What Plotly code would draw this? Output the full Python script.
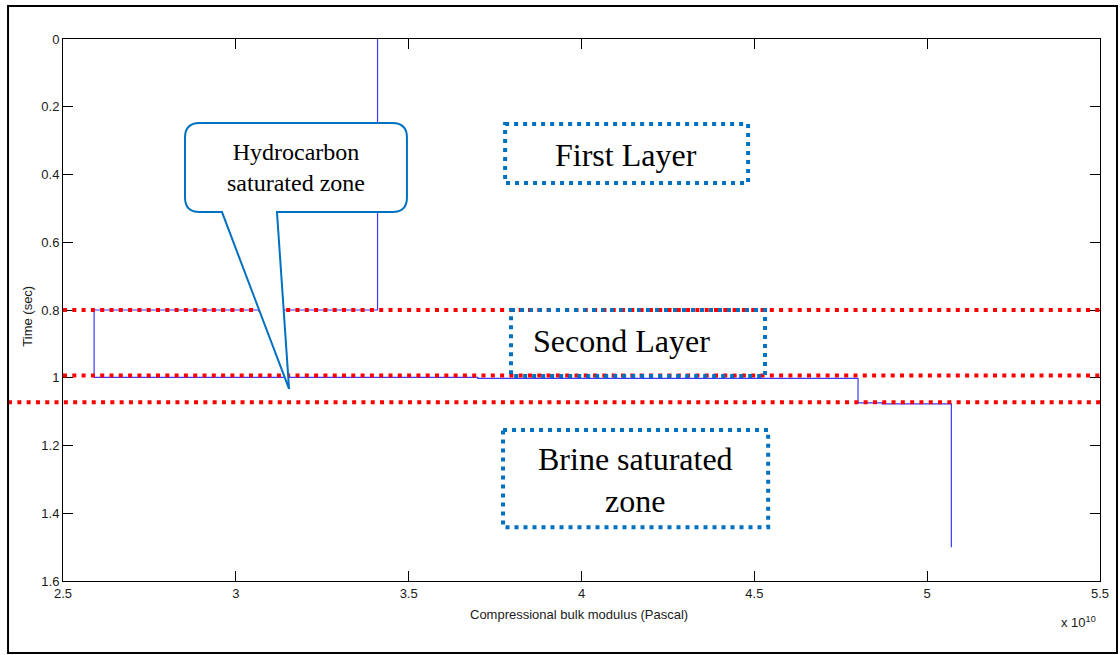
import plotly.graph_objects as go

# ---- data (x in units of 1e10 Pa, y in seconds) ----
modulus = [3.41, 3.41, 2.59, 2.59, 3.70, 3.70, 4.80, 4.80, 4.87, 4.87, 5.07, 5.07]
time_s = [0.0, 0.80, 0.80, 0.999, 0.999, 1.002, 1.002, 1.074, 1.074, 1.077, 1.077, 1.50]

boundaries = [0.80, 0.993, 1.072]          # red dotted layer boundaries
x_ticks = [2.5, 3, 3.5, 4, 4.5, 5, 5.5]
x_ticklabels = ["2.5", "3", "3.5", "4", "4.5", "5", "5.5"]
y_ticks = [0, 0.2, 0.4, 0.6, 0.8, 1.0, 1.2, 1.4, 1.6]
y_ticklabels = ["0", "0.2", "0.4", "0.6", "0.8", "1", "1.2", "1.4", "1.6"]

label_boxes = {  # text: (x0, x1, y0, y1, xc, yc)
    "First Layer": (3.779, 4.482, 0.251, 0.425, 4.129, 0.342),
    "Second Layer": (3.796, 4.531, 0.800, 0.995, 4.117, 0.891),
    "Brine saturated<br>zone": (3.773, 4.540, 1.154, 1.441, 4.155, 1.302),
}

SANS = "Liberation Sans Narrow, Arial Narrow, Liberation Sans, Arial"
SERIF = "Liberation Serif, Times New Roman, serif"
BOXBLUE = "#0070C0"

fig = go.Figure()
fig.add_trace(go.Scatter(x=modulus, y=time_s, mode="lines",
                         line=dict(color="#3a3aff", width=1.2), hoverinfo="skip",
                         showlegend=False))

shapes = []
# red dotted boundaries
for i, b in enumerate(boundaries):
    if i < 2:
        shapes.append(dict(type="line", xref="x", yref="y", x0=2.5, x1=5.5, y0=b, y1=b,
                           line=dict(color="#ff0000", width=4, dash="4px,5.3px")))
    else:
        shapes.append(dict(type="line", xref="paper", yref="y", x0=-0.053, x1=1.0, y0=b, y1=b,
                           line=dict(color="#ff0000", width=4, dash="4px,5.3px")))

annotations = []
for text, (x0, x1, y0, y1, xc, yc) in label_boxes.items():
    shapes.append(dict(type="rect", xref="x", yref="y", x0=x0, x1=x1, y0=y0, y1=y1,
                       line=dict(color=BOXBLUE, width=4, dash="4px,5px"),
                       fillcolor="rgba(0,0,0,0)"))
    annotations.append(dict(x=xc, y=yc, xref="x", yref="y", text=text, showarrow=False,
                            xanchor="center", yanchor="middle",
                            font=dict(family=SERIF, size=32, color="#000000"),
                            align="center"))

# callout (hydrocarbon)
cx0, cx1, cy0, cy1 = 2.853, 3.495, 0.248, 0.511
rx, ry = 0.042, 0.043
t1, tip_x, tip_y, t2 = 3.119, 3.154, 1.033, 2.960
path = (f"M {cx0+rx},{cy0} L {cx1-rx},{cy0} Q {cx1},{cy0} {cx1},{cy0+ry} "
        f"L {cx1},{cy1-ry} Q {cx1},{cy1} {cx1-rx},{cy1} "
        f"L {t1},{cy1} L {tip_x},{tip_y} L {t2},{cy1} "
        f"L {cx0+rx},{cy1} Q {cx0},{cy1} {cx0},{cy1-ry} "
        f"L {cx0},{cy0+ry} Q {cx0},{cy0} {cx0+rx},{cy0} Z")
shapes.append(dict(type="path", xref="x", yref="y", path=path,
                   fillcolor="#ffffff", line=dict(color=BOXBLUE, width=2)))
annotations.append(dict(x=3.174, y=0.378, xref="x", yref="y",
                        text="Hydrocarbon<br>saturated zone", showarrow=False,
                        xanchor="center", yanchor="middle",
                        font=dict(family=SERIF, size=24, color="#000000"), align="center"))

# outer frame
shapes.append(dict(type="rect", xref="paper", yref="paper", x0=-0.053, x1=1.0164,
                   y0=-0.1328, y1=1.0609, line=dict(color="#000000", width=2)))

# axis titles
annotations.append(dict(xref="paper", yref="paper", x=0.498, y=-0.061,
                        xanchor="center", yanchor="middle",
                        text="Compressional bulk modulus (Pascal)", showarrow=False,
                        font=dict(family=SANS, size=13, color="#1a1a1a")))
annotations.append(dict(xref="paper", yref="paper", x=-0.034, y=0.489, textangle=-90,
                        xanchor="center", yanchor="middle",
                        text="Time (sec)", showarrow=False,
                        font=dict(family=SANS, size=13, color="#1a1a1a")))
annotations.append(dict(xref="paper", yref="paper", x=0.979, y=-0.076,
                        xanchor="center", yanchor="middle",
                        text="x 10<sup>10</sup>", showarrow=False,
                        font=dict(family=SANS, size=13, color="#1a1a1a")))

fig.update_layout(
    width=1120, height=655,
    margin=dict(l=63, r=20, t=39, b=74),
    paper_bgcolor="#ffffff", plot_bgcolor="#ffffff",
    shapes=shapes, annotations=annotations, showlegend=False,
    xaxis=dict(range=[2.5, 5.5], tickvals=x_ticks, ticktext=x_ticklabels,
               showgrid=False, zeroline=False, showline=True, linecolor="#000000",
               linewidth=1, mirror="allticks", ticks="inside", ticklen=10,
               tickcolor="#000000", tickfont=dict(family=SANS, size=13, color="#1a1a1a")),
    yaxis=dict(range=[1.6, 0], tickvals=y_ticks, ticktext=y_ticklabels,
               showgrid=False, zeroline=False, showline=True, linecolor="#000000",
               linewidth=1, mirror="allticks", ticks="inside", ticklen=10,
               tickcolor="#000000", tickfont=dict(family=SANS, size=13, color="#1a1a1a")),
)

fig.write_html("out.html")
